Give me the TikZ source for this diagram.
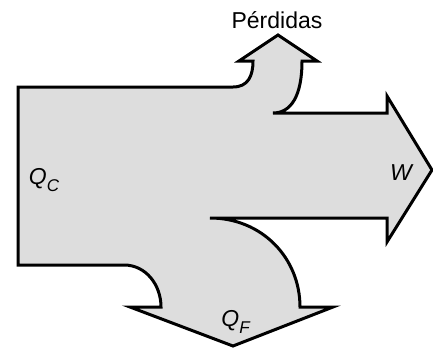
\documentclass[tikz,border=0pt]{standalone}
\usepackage{fontspec}
\setmainfont{Liberation Sans}
\begin{document}
\begin{tikzpicture}[x=1pt,y=-1pt,
  flow/.style={fill={rgb,255:red,221;green,221;blue,221},draw=black,line width=3pt,line join=miter},
  lbl/.style={font=\fontsize{23}{26}\selectfont,inner sep=0pt}]
\useasboundingbox (0,0) rectangle (433,348);
\draw[flow] (18,87) -- (233,87)
  .. controls (248,87) and (253,76) .. (253,61)
  -- (239,61) -- (278,35) -- (317,61) -- (302,61)
  .. controls (302,96) and (291,113) .. (273,113)
  -- (387,113) -- (387,96) -- (432,170) -- (387,242) -- (387,218)
  -- (210,218)
  .. controls (262,218) and (300,258) .. (300,307)
  -- (333,307) -- (233,346) -- (130,307) -- (161,307)
  .. controls (161,285) and (146,265) .. (124,265)
  -- (18,265) -- cycle;
\node[lbl] (perd) at (277,20) {Pérdidas};
\node[lbl] (qc) at (44,180) {\textit{Q}\raisebox{-0.3em}{\fontsize{17}{19}\selectfont\textit{C}}};
\node[lbl] (w) at (402,173) {\textit{W}};
\node[lbl] (qf) at (236,322) {\textit{Q}\raisebox{-0.3em}{\fontsize{17}{19}\selectfont\textit{F}}};
\end{tikzpicture}
\end{document}
